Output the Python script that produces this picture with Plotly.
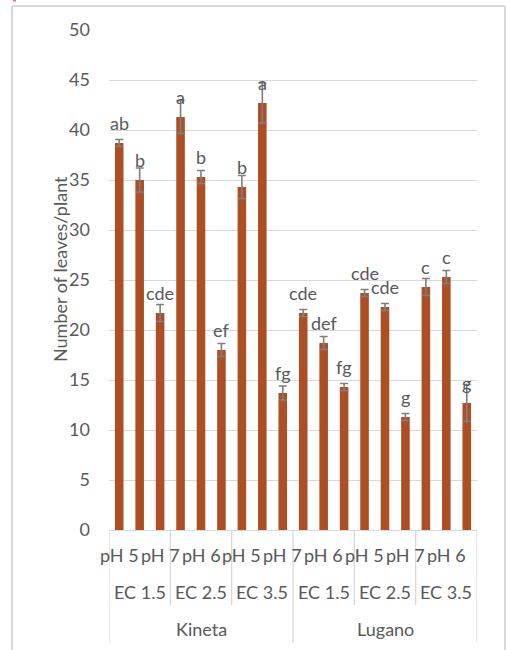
import plotly.graph_objects as go

cultivars = ["Kineta", "Lugano"]
ec_levels = ["EC 1.5", "EC 2.5", "EC 3.5"]
ph_levels = ["pH 5", "pH 6", "pH 7"]

leaves = [38.7, 35.0, 21.7, 41.3, 35.3, 18.0, 34.3, 42.7, 13.7,
          21.7, 18.7, 14.3, 23.7, 22.3, 11.3, 24.3, 25.3, 12.7]
errors = [0.35, 1.2, 0.85, 1.65, 0.65, 0.65, 1.15, 2.0, 0.7,
          0.35, 0.65, 0.35, 0.35, 0.35, 0.35, 0.85, 0.65, 1.85]
letters = ["ab", "b", "cde", "a", "b", "ef", "b", "a", "fg",
           "cde", "def", "fg", "cde", "cde", "g", "c", "c", "g"]

ph_labels = [p for c in cultivars for e in ec_levels for p in ph_levels]
xpos = list(range(len(leaves)))

GRAY = "#595959"
FONT = "Lato"
FS = 18
BAR = "#AD4F25"

fig = go.Figure()
fig.add_trace(go.Bar(
    x=xpos, y=leaves, width=0.42, marker=dict(color=BAR, line=dict(width=0)),
    error_y=dict(type="data", array=errors, visible=True, color="#7F7F7F",
                 thickness=1.6, width=4),
    hoverinfo="skip",
))

ann = []
for i, (v, t) in enumerate(zip(leaves, letters)):
    ann.append(dict(x=i, y=v, xref="x", yref="y", text=t, showarrow=False,
                    yanchor="bottom", yshift=7,
                    font=dict(family=FONT, size=FS, color=GRAY)))

# pH level labels (every other one shown, as in the original)
for i, t in enumerate(ph_labels):
    if i % 2 == 0:
        ann.append(dict(x=i, y=-0.05, xref="x", yref="paper", text=t,
                        showarrow=False, yanchor="middle",
                        font=dict(family=FONT, size=FS, color=GRAY)))
# EC labels
for ci in range(len(cultivars)):
    for ei, e in enumerate(ec_levels):
        center = ci * 9 + ei * 3 + 1
        ann.append(dict(x=center, y=-0.124, xref="x", yref="paper", text=e,
                        showarrow=False, yanchor="middle",
                        font=dict(family=FONT, size=FS, color=GRAY)))
# Cultivar labels
for ci, c in enumerate(cultivars):
    ann.append(dict(x=ci * 9 + 4, y=-0.198, xref="x", yref="paper", text=c,
                    showarrow=False, yanchor="middle",
                    font=dict(family=FONT, size=FS, color=GRAY)))

# y axis title
ann.append(dict(x=0, y=0.5, xref="paper", yref="paper", xshift=-49, yshift=11,
                text="Number of leaves/plant", textangle=-90, showarrow=False,
                xanchor="center", yanchor="middle",
                font=dict(family=FONT, size=FS, color=GRAY)))

shapes = []
for b in [-0.5, 2.5, 5.5, 8.5, 11.5, 14.5, 17.5]:
    outer = b in (-0.5, 8.5, 17.5)
    shapes.append(dict(type="line", xref="x", yref="paper", x0=b, x1=b,
                       y0=0, y1=-0.226 if outer else -0.15,
                       line=dict(color="#D9D9D9", width=1.3)))
# outer chart border
bx0 = (12 - 109) / 368
bx1 = (505 - 109) / 368
by_top = (530 - 6) / 500
by_bot = (530 - 660) / 500
shapes.append(dict(type="line", xref="paper", yref="paper",
                   x0=bx0, x1=bx0, y0=by_top, y1=by_bot,
                   line=dict(color="#D9D9D9", width=2)))
shapes.append(dict(type="line", xref="paper", yref="paper",
                   x0=bx0, x1=bx1, y0=by_top, y1=by_top,
                   line=dict(color="#D9D9D9", width=2)))
shapes.append(dict(type="line", xref="paper", yref="paper",
                   x0=bx1, x1=bx1, y0=by_top, y1=by_bot,
                   line=dict(color="#D9D9D9", width=2)))
# small red mark at top-left corner
shapes.append(dict(type="line", xref="paper", yref="paper",
                   x0=(13 - 109) / 368, x1=(16 - 109) / 368,
                   y0=(530 - 0.5) / 500, y1=(530 - 0.5) / 500,
                   line=dict(color="#FF6B6B", width=2)))

fig.update_layout(
    width=506, height=650,
    margin=dict(l=109, r=29, t=30, b=120),
    paper_bgcolor="white", plot_bgcolor="white",
    showlegend=False,
    xaxis=dict(range=[-0.5, 17.5], showticklabels=False, showgrid=False,
               zeroline=False, showline=True, linecolor="#D9D9D9",
               linewidth=1.3, ticks="", fixedrange=True),
    yaxis=dict(range=[0, 50], dtick=5, tick0=0, showgrid=True,
               gridcolor="#D9D9D9", gridwidth=1.3, zeroline=False,
               showline=False, ticks="", ticklabelstandoff=18,
               tickfont=dict(family=FONT, size=FS, color=GRAY)),
    annotations=ann,
    shapes=shapes,
    font=dict(family=FONT, color=GRAY),
)

fig.write_html("out.html")
